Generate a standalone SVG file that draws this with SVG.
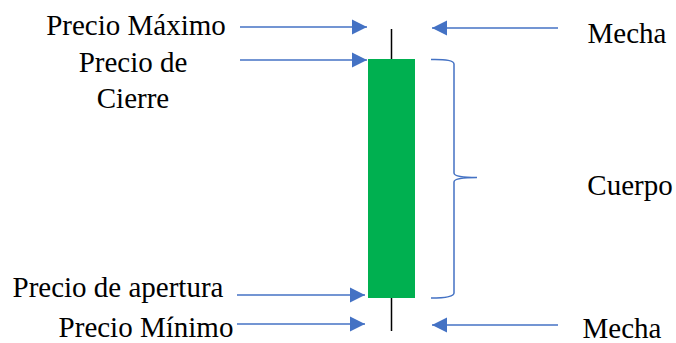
<svg xmlns="http://www.w3.org/2000/svg" width="676" height="343" viewBox="0 0 676 343">
<style>
.t{font-family:"Liberation Serif","Times New Roman",serif;font-size:29px;fill:#000;text-anchor:middle}
.a{stroke:#4472C4;stroke-width:1.5;fill:none;marker-end:url(#ah)}
</style>
<defs>
<marker id="ah" markerUnits="userSpaceOnUse" markerWidth="16" markerHeight="16" viewBox="0 0 16 16" refX="15" refY="8" orient="auto">
<path d="M0,0.5 L15,8 L0,15.5 Z" fill="#4472C4"/>
</marker>
</defs>
<rect width="676" height="343" fill="#fff"/>
<g id="candle">
<line x1="391.5" y1="29" x2="391.5" y2="331" stroke="#000" stroke-width="1.5"/>
<rect x="368" y="59" width="47" height="239" fill="#00B050"/>
</g>
<g id="connectors">
<line class="a" x1="240" y1="27" x2="367" y2="27"/>
<line class="a" x1="240" y1="60" x2="367" y2="60"/>
<line class="a" x1="237" y1="295" x2="365" y2="295"/>
<line class="a" x1="237" y1="324" x2="365" y2="324"/>
<line class="a" x1="558" y1="28" x2="432" y2="28"/>
<line class="a" x1="558" y1="325" x2="432" y2="325"/>
<path d="M431,59.5 Q454,59 454,64 L454,173 Q454,177.5 477,177.5 Q454,177.5 454,182 L454,293 Q454,298 431,298" stroke="#4472C4" stroke-width="1.5" fill="none"/>
</g>
<g id="label-max"><text class="t" x="136" y="35">Precio Máximo</text></g>
<g id="label-cierre"><text class="t" x="133" y="72">Precio de</text><text class="t" x="133" y="108">Cierre</text></g>
<g id="label-apertura"><text class="t" x="118" y="297">Precio de apertura</text></g>
<g id="label-min"><text class="t" x="146" y="337">Precio Mínimo</text></g>
<g id="label-mecha-top"><text class="t" x="627" y="43">Mecha</text></g>
<g id="label-cuerpo"><text class="t" x="630" y="195">Cuerpo</text></g>
<g id="label-mecha-bottom"><text class="t" x="622" y="338">Mecha</text></g>
</svg>
